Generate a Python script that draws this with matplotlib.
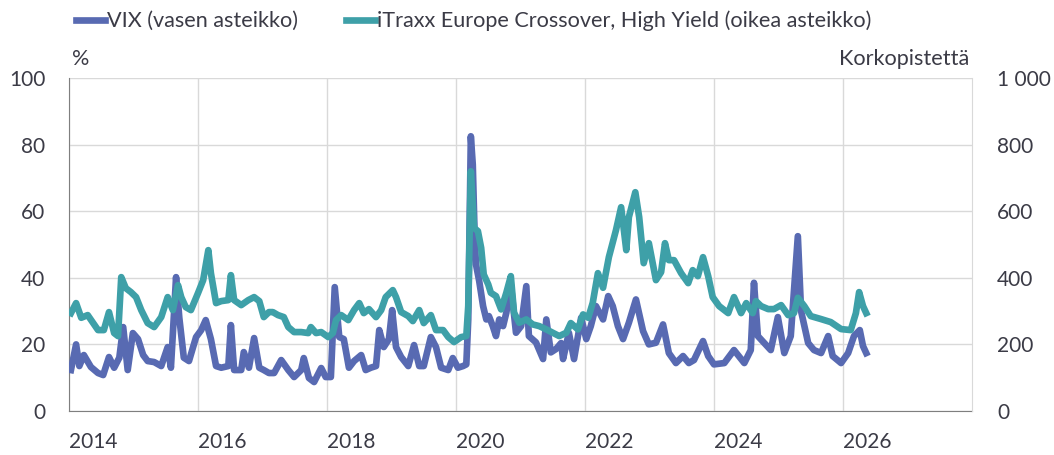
import matplotlib
matplotlib.use("Agg")
import matplotlib.pyplot as plt
from matplotlib.ticker import FixedLocator, FuncFormatter

# ---------------- data (decimal years) ----------------
vix_t = [2014.03, 2014.11, 2014.16, 2014.23, 2014.34, 2014.45, 2014.53, 2014.62, 2014.70, 2014.78,
         2014.84, 2014.91, 2014.99, 2015.07, 2015.15, 2015.22, 2015.32, 2015.43, 2015.53, 2015.58,
         2015.66, 2015.71, 2015.78, 2015.86, 2015.97, 2016.05, 2016.12, 2016.20, 2016.28, 2016.36,
         2016.47, 2016.51, 2016.56, 2016.67, 2016.71, 2016.79, 2016.87, 2016.95, 2017.02, 2017.10,
         2017.18, 2017.29, 2017.40, 2017.49, 2017.60, 2017.64, 2017.72, 2017.80, 2017.91, 2017.98,
         2018.06, 2018.12, 2018.19, 2018.26, 2018.34, 2018.42, 2018.53, 2018.60, 2018.68, 2018.76,
         2018.81, 2018.88, 2018.96, 2019.01, 2019.07, 2019.15, 2019.26, 2019.35, 2019.43, 2019.50,
         2019.61, 2019.69, 2019.77, 2019.88, 2019.95, 2020.03, 2020.11, 2020.16, 2020.19, 2020.23,
         2020.26, 2020.29, 2020.31, 2020.36, 2020.42, 2020.47, 2020.51, 2020.57, 2020.62, 2020.67,
         2020.73, 2020.78, 2020.85, 2020.93, 2021.01, 2021.09, 2021.13, 2021.24, 2021.35, 2021.40,
         2021.47, 2021.55, 2021.63, 2021.66, 2021.75, 2021.83, 2021.94, 2022.02, 2022.09, 2022.17,
         2022.28, 2022.36, 2022.43, 2022.51, 2022.59, 2022.68, 2022.79, 2022.90, 2022.99, 2023.10,
         2023.21, 2023.30, 2023.41, 2023.52, 2023.61, 2023.69, 2023.83, 2023.91, 2024.00, 2024.16,
         2024.31, 2024.47, 2024.57, 2024.62, 2024.68, 2024.78, 2024.88, 2024.99, 2025.09, 2025.19,
         2025.30, 2025.35, 2025.46, 2025.55, 2025.66, 2025.77, 2025.84, 2025.97, 2026.08, 2026.17,
         2026.26, 2026.31, 2026.36]
vix_v = [12.3, 20.0, 13.5, 16.8, 13.2, 11.4, 10.8, 16.2, 13.0, 16.0,
         25.2, 12.3, 23.4, 21.6, 16.8, 15.0, 14.7, 13.5, 19.2, 13.0,
         40.2, 28.0, 16.0, 15.0, 22.2, 24.3, 27.3, 21.6, 13.5, 13.0,
         13.5, 25.8, 12.3, 12.3, 17.7, 13.0, 21.9, 13.0, 12.3, 11.4,
         11.4, 15.3, 12.3, 10.2, 12.3, 15.9, 9.9, 8.7, 12.9, 10.2,
         10.2, 37.2, 22.2, 21.6, 13.0, 15.0, 16.8, 12.3, 13.0, 13.5,
         24.3, 19.2, 21.6, 30.3, 19.2, 16.2, 13.5, 19.8, 13.5, 13.5,
         22.2, 19.2, 13.0, 12.3, 15.9, 13.0, 13.5, 14.0, 27.5, 82.5,
         74.0, 52.0, 44.0, 39.0, 31.5, 27.5, 28.5, 25.5, 22.5, 27.5,
         25.5, 29.5, 38.0, 23.5, 25.5, 37.5, 22.5, 20.6, 15.6, 27.5,
         17.6, 18.6, 20.4, 15.6, 23.5, 15.6, 28.0, 21.6, 25.5, 31.5,
         27.5, 34.5, 31.5, 25.5, 21.6, 26.5, 33.5, 24.0, 20.0, 20.5,
         26.0, 17.4, 14.4, 16.5, 14.4, 15.3, 21.0, 16.5, 14.0, 14.4,
         18.3, 14.4, 18.3, 38.5, 22.5, 20.4, 18.3, 28.2, 17.4, 22.5,
         52.5, 30.0, 20.4, 18.3, 17.4, 22.5, 16.5, 14.4, 17.4, 22.5,
         24.3, 19.5, 17.4]

itraxx_t = [2014.03, 2014.11, 2014.19, 2014.29, 2014.45, 2014.54, 2014.62, 2014.70, 2014.76, 2014.81,
            2014.88, 2014.96, 2015.04, 2015.12, 2015.22, 2015.32, 2015.43, 2015.53, 2015.61, 2015.69,
            2015.74, 2015.81, 2015.89, 2016.00, 2016.08, 2016.16, 2016.20, 2016.28, 2016.36, 2016.47,
            2016.51, 2016.56, 2016.67, 2016.78, 2016.87, 2016.95, 2017.02, 2017.10, 2017.16, 2017.24,
            2017.33, 2017.40, 2017.49, 2017.60, 2017.71, 2017.75, 2017.83, 2017.91, 2018.02, 2018.09,
            2018.14, 2018.22, 2018.33, 2018.42, 2018.50, 2018.57, 2018.65, 2018.76, 2018.84, 2018.91,
            2019.02, 2019.07, 2019.15, 2019.26, 2019.33, 2019.43, 2019.50, 2019.61, 2019.69, 2019.80,
            2019.88, 2019.97, 2020.08, 2020.16, 2020.19, 2020.23, 2020.28, 2020.34, 2020.39, 2020.43,
            2020.50, 2020.54, 2020.62, 2020.70, 2020.78, 2020.85, 2020.90, 2020.98, 2021.09, 2021.19,
            2021.29, 2021.40, 2021.50, 2021.60, 2021.71, 2021.78, 2021.89, 2021.97, 2022.05, 2022.12,
            2022.20, 2022.28, 2022.37, 2022.48, 2022.56, 2022.64, 2022.68, 2022.78, 2022.84, 2022.91,
            2022.99, 2023.10, 2023.18, 2023.24, 2023.30, 2023.38, 2023.49, 2023.60, 2023.67, 2023.75,
            2023.83, 2023.91, 2023.98, 2024.08, 2024.22, 2024.31, 2024.42, 2024.50, 2024.60, 2024.65,
            2024.73, 2024.84, 2024.93, 2025.04, 2025.15, 2025.24, 2025.30, 2025.40, 2025.50, 2025.66,
            2025.81, 2025.97, 2026.12, 2026.20, 2026.25, 2026.31, 2026.36]
itraxx_v = [294, 324, 280, 288, 243, 243, 297, 234, 225, 402,
            369, 357, 342, 303, 264, 252, 282, 342, 303, 378,
            342, 312, 303, 354, 393, 483, 414, 324, 330, 333,
            408, 333, 318, 333, 342, 330, 282, 297, 297, 288,
            282, 252, 237, 237, 234, 252, 234, 237, 222, 234,
            273, 288, 273, 303, 324, 294, 306, 282, 303, 342,
            363, 342, 297, 285, 270, 303, 264, 288, 243, 243,
            222, 207, 222, 225, 315, 720, 550, 540, 490, 410,
            380, 355, 345, 305, 355, 405, 295, 265, 275, 260,
            255, 245, 235, 225, 235, 264, 245, 290, 280, 325,
            414, 370, 462, 543, 612, 483, 582, 657, 582, 444,
            504, 393, 417, 504, 453, 453, 414, 384, 423, 405,
            462, 405, 342, 315, 294, 342, 294, 324, 294, 330,
            315, 306, 306, 318, 288, 294, 340, 315, 285, 276,
            267, 246, 243, 294, 357, 315, 294]

year_ticks = [2014, 2016, 2018, 2020, 2022, 2024, 2026]
left_ticks = [0, 20, 40, 60, 80, 100]
right_ticks = [0, 200, 400, 600, 800, 1000]

VIX_LABEL = "VIX (vasen asteikko)"
ITRAXX_LABEL = "iTraxx Europe Crossover, High Yield (oikea asteikko)"

# ---------------- style ----------------
FONT = ["Lato", "DejaVu Sans"]
plt.rcParams['font.family'] = FONT
TXT = "#3b3b46"
VIX_C = "#586ab2"
ITR_C = "#3ea0a8"
GRID_C = "#d9d9d9"
FS = 15
FS_LAB = 15.6

fig = plt.figure(figsize=(10.54, 4.55), dpi=100)
ax = fig.add_axes([69/1054, 1-411/455, (972-69)/1054, (411-78)/455])
ax2 = ax.twinx()

ax.plot(vix_t, vix_v, color=VIX_C, lw=4.8, solid_joinstyle='round', label=VIX_LABEL, zorder=3)
ax2.plot(itraxx_t, itraxx_v, color=ITR_C, lw=4.8, solid_joinstyle='round', label=ITRAXX_LABEL, zorder=3)

ax.set_xlim(2014, 2028)
ax.set_ylim(0, 100)
ax2.set_ylim(0, 1000)

ax.xaxis.set_major_locator(FixedLocator(year_ticks))
ax.set_xticklabels([str(y) for y in year_ticks], ha='left')
ax.yaxis.set_major_locator(FixedLocator(left_ticks))
ax2.yaxis.set_major_locator(FixedLocator(right_ticks))
ax2.yaxis.set_major_formatter(FuncFormatter(lambda v, p: f"{int(v):,}".replace(",", " ")))

ax.grid(True, color=GRID_C, lw=1.0)
ax.set_axisbelow(True)

for a in (ax, ax2):
    a.tick_params(length=0, labelsize=FS, labelcolor=TXT)
    a.spines['top'].set_visible(False)
ax.tick_params(axis='x', pad=15)
ax.tick_params(axis='y', pad=17)
ax2.tick_params(axis='y', pad=18)
ax.spines['left'].set_color("#7f7f7f")
ax.spines['bottom'].set_color("#7f7f7f")
ax2.spines['left'].set_visible(False)
ax2.spines['bottom'].set_visible(False)
ax2.spines['right'].set_color(GRID_C)
ax.spines['right'].set_visible(False)

fig.text(72/1054, 1-59/455, "%", fontsize=FS_LAB, color=TXT, ha='left', va='center')
fig.text(969/1054, 1-59/455, "Korkopistettä", fontsize=FS_LAB, color=TXT, ha='right', va='center')

h1, l1 = ax.get_legend_handles_labels()
h2, l2 = ax2.get_legend_handles_labels()
leg = fig.legend(h1 + h2, l1 + l2, ncol=2, frameon=False, fontsize=FS_LAB,
                 loc='center left', bbox_to_anchor=(65/1054, 1-21/455),
                 handlelength=1.35, handletextpad=0.1, columnspacing=2.2, borderpad=0)
for t in leg.get_texts():
    t.set_color(TXT)

fig.savefig("out.png", dpi=100)
